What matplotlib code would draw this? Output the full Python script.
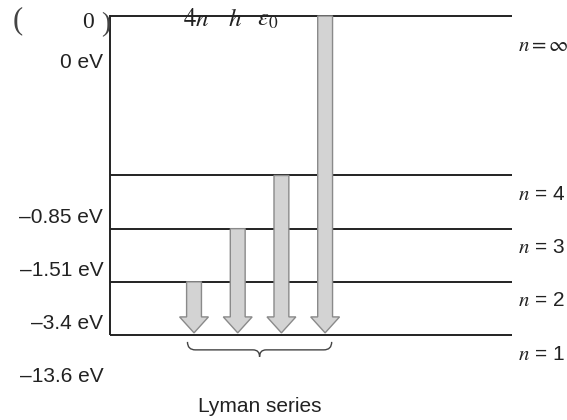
import matplotlib
matplotlib.use("Agg")
import matplotlib.pyplot as plt
from matplotlib.path import Path
from matplotlib.patches import PathPatch

plt.rcParams['font.family'] = ['Liberation Sans', 'DejaVu Sans']
plt.rcParams['mathtext.fontset'] = 'stix'

# hydrogen levels, schematic height on the diagram
levels = ['1', '2', '3', '4', r'\infty']
level_pos = [0, 1, 2, 3, 6]
energies = ['–13.6 eV', '–3.4 eV', '–1.51 eV', '–0.85 eV', '0 eV']

# Lyman series: transitions from these upper levels down to n = 1
lyman_upper = [1, 2, 3, 4]
lyman_x = [1, 2, 3, 4]

fig = plt.figure(figsize=(5.67, 4.2), dpi=100)
ax = fig.add_axes([0, 0, 1, 1])
ax.set_xlim(-3.44, 9.535)
ax.set_ylim(-1.599, 6.301)
ax.axis('off')

ink = '#222222'
fs = 15
line_kw = dict(color=ink, lw=1.4, solid_capstyle='butt')
x_left, x_right = -0.92, 8.28

# vertical axis and level lines
ax.plot([x_left, x_left], [level_pos[0], level_pos[-1] + 0.02], **line_kw)
for i, y in enumerate(level_pos):
    ax.plot([x_left, x_right], [y, y], **line_kw)
    if levels[i] == r'\infty':
        lab = r'$n = \infty$'
        dy_r, dy_l = -0.55, -0.87
    else:
        lab = r'$n$ = ' + levels[i]
        dy_r, dy_l = -0.36, -0.79
    ax.text(8.41, y + dy_r, lab, ha='left', va='center', fontsize=fs, color=ink)
    ax.text(-1.08, y + dy_l, energies[i], ha='right', va='center', fontsize=fs, color=ink)

# arrows
for x, up in zip(lyman_x, lyman_upper):
    y0 = level_pos[up]
    y1 = level_pos[0] + 0.04
    ax.arrow(x, y0, 0, y1 - y0, width=0.34, head_width=0.66, head_length=0.30,
             length_includes_head=True, fc='#d3d3d3', ec='#8a8a8a', lw=1, zorder=3)

# curly brace under the arrows
xa = lyman_x[0] - 0.15
xb = lyman_x[-1] + 0.15
xm = (lyman_x[0] + lyman_x[-1]) / 2
y_top, y_mid, y_tip = -0.13, -0.28, -0.41
verts = [(xa, y_top), (xa, y_mid), (xa + 0.18, y_mid), (xm - 0.15, y_mid),
         (xm, y_mid), (xm, y_tip), (xm, y_mid), (xm + 0.15, y_mid),
         (xb - 0.18, y_mid), (xb, y_mid), (xb, y_top)]
codes = [Path.MOVETO, Path.CURVE3, Path.CURVE3, Path.LINETO,
         Path.CURVE3, Path.CURVE3, Path.CURVE3, Path.CURVE3,
         Path.LINETO, Path.CURVE3, Path.CURVE3]
ax.add_patch(PathPatch(Path(verts, codes), fc='none', ec='#444444', lw=1))
ax.text(xm, -1.354, 'Lyman series', ha='center', va='center', fontsize=fs, color=ink)

# cut-off formula remnants at the top edge
fig.text(18 / 567, 1 - 21 / 420, '(', family='Liberation Serif', fontsize=22,
         ha='center', va='center', color='#444444')
fig.text(88 / 567, 1 - 22 / 420, '0', family='Liberation Serif', fontsize=17,
         ha='center', va='center', color=ink)
fig.text(106 / 567, 1 - 25 / 420, ')', family='Liberation Serif', fontsize=20,
         ha='center', va='center', color='#444444')
for xp, s in zip([183, 228, 257], [r'$4n$', r'$h$', r'$\varepsilon_0$']):
    fig.text(xp / 567, 1 - 26 / 420, s, fontsize=18, ha='left', va='baseline', color=ink)

fig.savefig('out.png', dpi=100)
